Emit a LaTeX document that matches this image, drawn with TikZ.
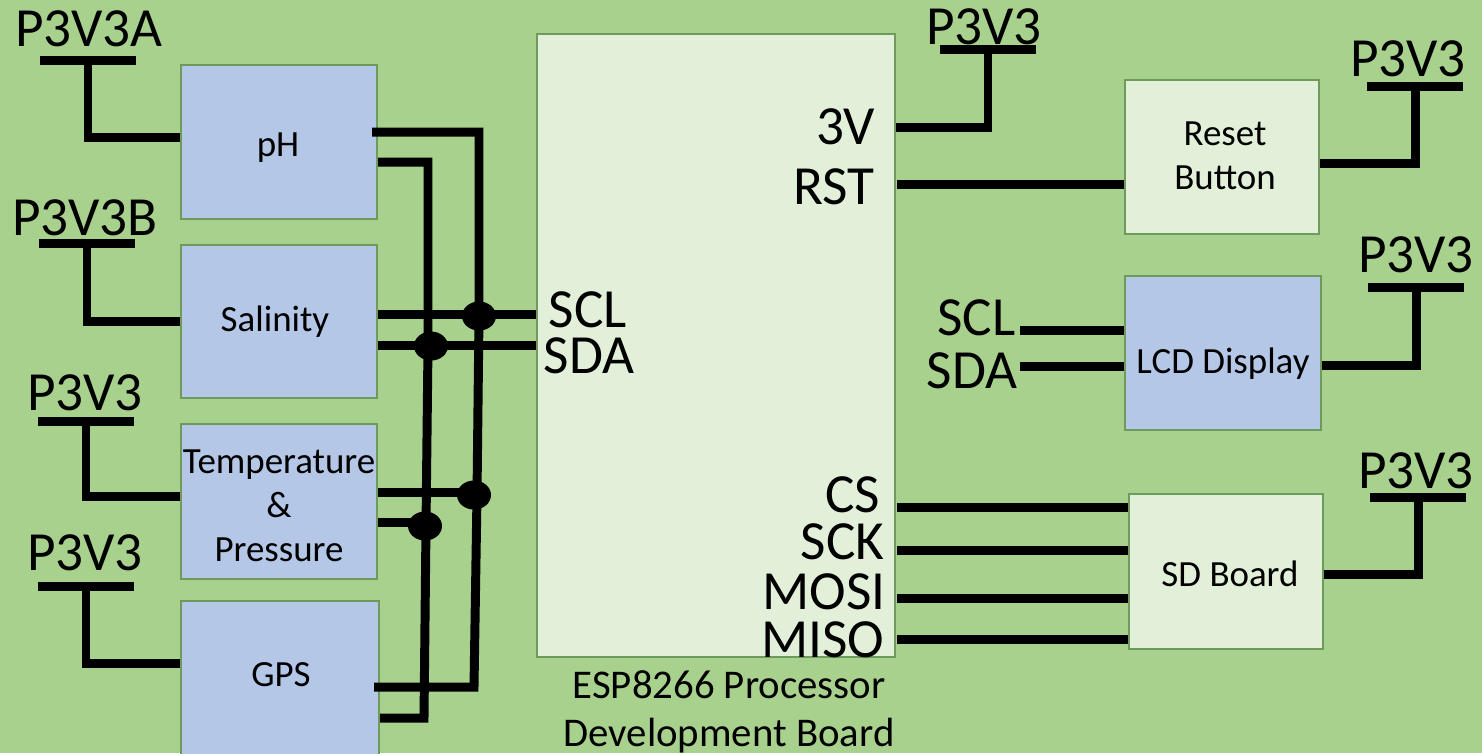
\documentclass[tikz,border=0pt]{standalone}
\usepackage{fontspec}
\setmainfont{Carlito}
\usetikzlibrary{shapes.geometric}
\definecolor{bgGreen}{HTML}{A9D18E}
\definecolor{boxBlue}{HTML}{B4C7E7}
\definecolor{boxLight}{HTML}{E2F0D9}
\definecolor{boxEdge}{HTML}{6E9A5C}
\tikzset{block/.style={draw=boxEdge, line width=.5pt, inner sep=0}}
\tikzset{sensor/.style={block, fill=boxBlue}}
\tikzset{board/.style={block, fill=boxLight}}
\tikzset{blocktext/.style={align=center, inner sep=0, font=\fontsize{10.5}{12.5}\selectfont}}
\tikzset{wire/.style={line width=2.55pt, color=black}}
\tikzset{rail/.style={fill=black, inner sep=0, minimum width=.95cm, minimum height=.09cm}}
\tikzset{railname/.style={font=\fontsize{15.7}{17}\selectfont, inner sep=0}}
\tikzset{pin/.style={font=\fontsize{15.7}{17}\selectfont, inner sep=0}}
\tikzset{joint/.style={ellipse, fill=black, inner sep=0, minimum width=.34cm, minimum height=.29cm}}

\begin{document}
\begin{tikzpicture}[x=.01cm,y=-.01cm]
\useasboundingbox (0,0) rectangle (1482,753);
\fill[bgGreen] (0,0) rectangle (1482,753);

% blocks on the left
\node[sensor, minimum width=1.96cm, minimum height=1.54cm] (ph) at (279,142) {};
\node[blocktext] (phtext) at (278,148) {pH};
\node[sensor, minimum width=1.96cm, minimum height=1.53cm] (salinity) at (279,321.5) {};
\node[blocktext] (salinitytext) at (275,322) {Salinity};
\node[sensor, minimum width=1.96cm, minimum height=1.55cm] (temp) at (279,501.5) {};
\node[blocktext] (temptext) at (279,506) {Temperature\\\&\\Pressure};
\node[sensor, minimum width=1.98cm, minimum height=1.59cm] (gps) at (280,680.5) {};
\node[blocktext] (gpstext) at (281,675) {GPS};

% processor
\node[board, minimum width=3.58cm, minimum height=6.23cm] (esp) at (716,345.5) {};
\node[blocktext, font=\fontsize{11.6}{13.6}\selectfont] (esptext) at (729,712) {ESP8266 Processor\\Development Board};

% blocks on the right
\node[board, minimum width=1.94cm, minimum height=1.54cm] (reset) at (1222,157) {};
\node[blocktext] (resettext) at (1225,156) {Reset\\Button};
\node[sensor, minimum width=1.96cm, minimum height=1.54cm] (lcd) at (1223,353) {};
\node[blocktext] (lcdtext) at (1223,364) {LCD Display};
\node[board, minimum width=1.94cm, minimum height=1.55cm] (sd) at (1226,571.5) {};
\node[blocktext] (sdtext) at (1230,574) {SD Board};

% rails
\node[rail] (rA) at (88,60) {};
\node[railname] at (89,29) {P3V3A};
\node[rail] (rB) at (87,243) {};
\node[railname] at (85,218) {P3V3B};
\node[rail] (rT) at (86,421) {};
\node[railname] at (85,393) {P3V3};
\node[rail] (rG) at (86,586) {};
\node[railname] at (85,553) {P3V3};
\node[rail] (rE) at (988,49) {};
\node[railname] at (984,27) {P3V3};
\node[rail] (rR) at (1415,86) {};
\node[railname] at (1408,59) {P3V3};
\node[rail] (rL) at (1416,287) {};
\node[railname] at (1416,255) {P3V3};
\node[rail] (rS) at (1418,497) {};
\node[railname] at (1416,471) {P3V3};

% pin names
\node[pin, anchor=east] (p3v) at (876,127) {3V};
\node[pin, anchor=east] (prst) at (875,187) {RST};
\node[pin, anchor=west] (pscl) at (548,310) {SCL};
\node[pin, anchor=west] (psda) at (543,356) {SDA};
\node[pin, anchor=east] (pcs) at (881,495) {CS};
\node[pin, anchor=east] (psck) at (885,542) {SCK};
\node[pin, anchor=east] (pmosi) at (886,592) {MOSI};
\node[pin, anchor=east] (pmiso) at (885,640) {MISO};
\node[pin, anchor=east] (lscl) at (1016,318) {SCL};
\node[pin, anchor=east] (lsda) at (1018,371) {SDA};

% power wires
\draw[wire] (rA) |- (ph.west |- 0,137);
\draw[wire] (rB) |- (salinity.west |- 0,321);
\draw[wire] (rT) |- (temp.west |- 0,496);
\draw[wire] (rG) |- (gps.west |- 0,663);
\draw[wire] (rE) |- (esp.east |- 0,127);
\draw[wire] (rR) |- (reset.east |- 0,163);
\draw[wire] (rL) |- (lcd.east |- 0,365);
\draw[wire] (rS) |- (sd.east |- 0,574);

% bus
\coordinate (sclA) at (372,132);
\coordinate (sclB) at (374,687);
\coordinate (sdaA) at (378,162);
\coordinate (sdaB) at (380,718);
\coordinate (sclS) at (378,314);
\coordinate (sdaS) at (378,345);
\coordinate (sclT) at (378,492);
\coordinate (sdaT) at (378,522);
\coordinate (jc1) at (479,316);
\coordinate (jc2) at (428,346);
\coordinate (jc3) at (477,495);
\coordinate (jc4) at (426,526);
\coordinate (sclC) at (474,687);
\coordinate (sdaC) at (424,718);
\draw[wire] (sclA) -| (jc1) -- (jc3) -- (sclC) -- (sclB);
\draw[wire] (sdaA) -| (jc2) -- (jc4) -- (sdaC) -- (sdaB);
\draw[wire] (sclS) -- (esp.west |- sclS);
\draw[wire] (sdaS) -- (esp.west |- sdaS);
\draw[wire] (sclT) -- (jc3 |- sclT);
\draw[wire] (sdaT) -- (jc4 |- sdaT);

% joints
\node[joint] (j1) at (jc1) {};
\node[joint] (j2) at (431,346) {};
\node[joint] (j3) at (474,495) {};
\node[joint] (j4) at (425,526) {};

% right side wires
\coordinate (rstL) at (897,184);
\coordinate (lclk) at (1020,330);
\coordinate (ldat) at (1020,366);
\coordinate (csL) at (897,507);
\coordinate (sckL) at (897,550);
\coordinate (mosiL) at (897,598);
\coordinate (misoL) at (897,639);
\draw[wire] (rstL) -- (reset.west |- rstL);
\draw[wire] (lclk) -- (lcd.west |- lclk);
\draw[wire] (ldat) -- (lcd.west |- ldat);
\draw[wire] (csL) -- (sd.west |- csL);
\draw[wire] (sckL) -- (sd.west |- sckL);
\draw[wire] (mosiL) -- (sd.west |- mosiL);
\draw[wire] (misoL) -- (sd.west |- misoL);
\end{tikzpicture}
\end{document}
